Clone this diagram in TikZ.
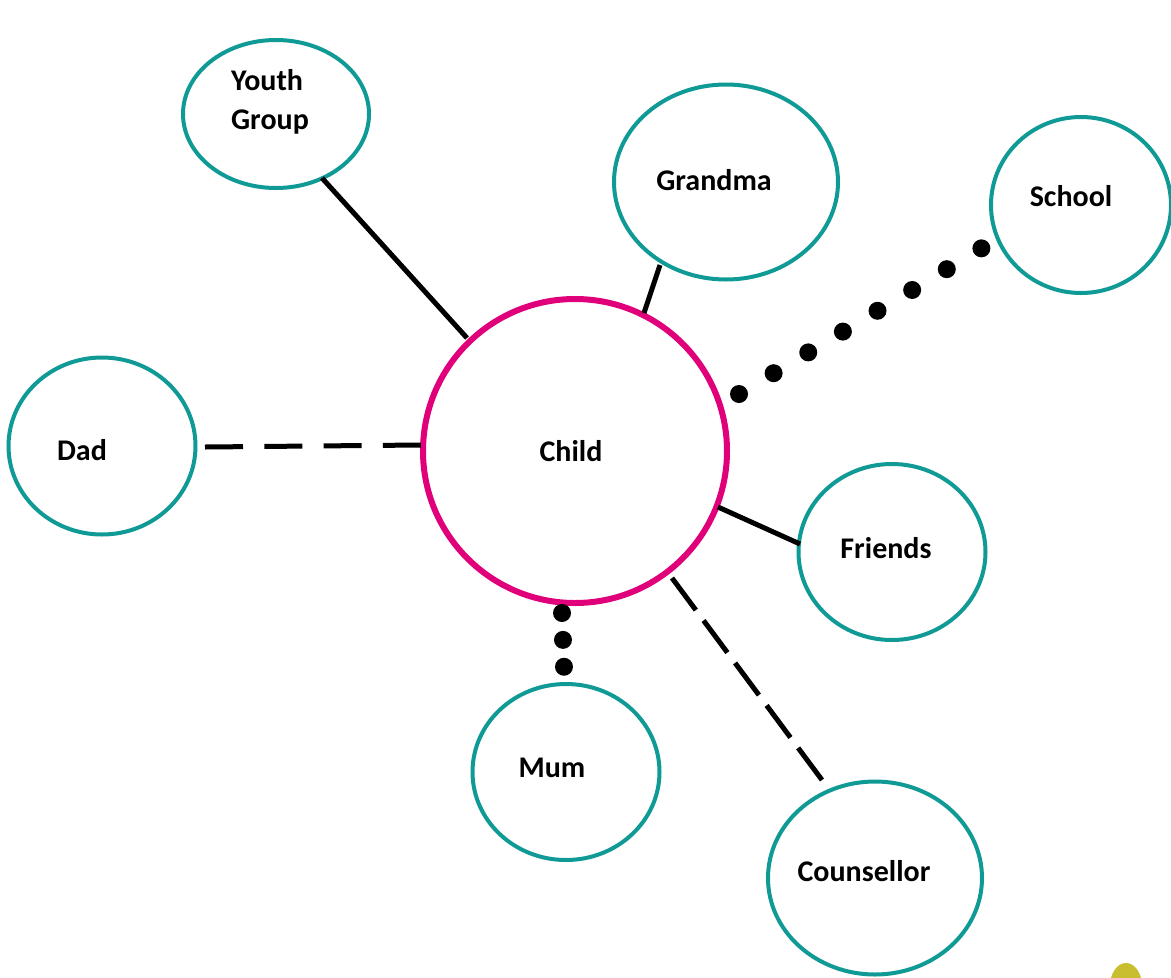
\documentclass[tikz,border=0pt]{standalone}
\usepackage{fontspec}
\setmainfont{Carlito}
\usetikzlibrary{shapes.geometric}
\definecolor{teal1}{RGB}{16,154,150}
\definecolor{pink1}{RGB}{224,0,122}
\definecolor{olive1}{RGB}{200,190,48}
\tikzset{
  bubble/.style={ellipse, draw=teal1, line width=4pt, inner sep=0pt, fill=white},
  centre/.style={circle, draw=pink1, line width=6pt, inner sep=0pt, fill=white},
  lbl/.style={font=\fontsize{30}{39}\selectfont\bfseries, align=left},
  solidlink/.style={line width=5pt, black},
  dashlink/.style={line width=5pt, black},
  dotlink/.style={line width=18pt, black, line cap=round}
}
\begin{document}
\begin{tikzpicture}[x=1pt,y=-1pt]
\useasboundingbox (0,0) rectangle (1171,978);
\fill[white] (0,0) rectangle (1171,978);
\coordinate (yg1) at (322,178);
\coordinate (yg2) at (467,338);
\coordinate (gm1) at (660,265);
\coordinate (gm2) at (644,313);
\coordinate (sc1) at (739,394);
\coordinate (sc2) at (982,248);
\coordinate (dd1) at (205,447);
\coordinate (dd2) at (421,445);
\coordinate (fr1) at (718,507);
\coordinate (fr2) at (800,544);
\coordinate (mm1) at (562,613);
\coordinate (mm2) at (564,667);
\coordinate (co1) at (672,578);
\coordinate (co2) at (822,780);

\node[bubble, minimum width=186pt, minimum height=148pt,
  label={[lbl, xshift=-6pt, yshift=12pt]center:{Youth\\Group}}] (youth) at (276,114) {};
\node[bubble, minimum width=224pt, minimum height=195pt,
  label={[lbl, xshift=-12pt, yshift=2pt]center:Grandma}] (grandma) at (726,182) {};
\node[bubble, minimum width=180pt, minimum height=176pt,
  label={[lbl, xshift=-10pt, yshift=9pt]center:School}] (school) at (1081,205) {};
\node[bubble, minimum width=187pt, minimum height=177pt,
  label={[lbl, xshift=-20pt, yshift=-4pt]center:Dad}] (dad) at (102,446) {};
\node[centre, minimum size=304pt,
  label={[lbl, xshift=-4pt]center:Child}] (child) at (575,451) {};
\node[bubble, minimum width=187pt, minimum height=176pt,
  label={[lbl, xshift=-6pt, yshift=4pt]center:Friends}] (friends) at (892,552) {};
\node[bubble, minimum width=187pt, minimum height=176pt,
  label={[lbl, xshift=-14pt, yshift=4pt]center:Mum}] (mum) at (566,772) {};
\node[bubble, minimum width=214pt, minimum height=193pt,
  label={[lbl, xshift=-11pt, yshift=7pt]center:Counsellor}] (counsellor) at (875,878) {};

\draw[solidlink] (yg1) -- (yg2);
\draw[solidlink] (gm1) -- (gm2);
\draw[solidlink] (fr1) -- (fr2);
\draw[dashlink, dash pattern=on 38pt off 21.3pt] (dd1) -- (dd2);
\draw[dashlink, dash pattern=on 40pt off 12.9pt] (co1) -- (co2);
\draw[dotlink, dash pattern=on 0pt off 40.4pt] (sc1) -- (sc2);
\draw[dotlink, dash pattern=on 0pt off 26.9pt] (mm1) -- (mm2);

\fill[olive1] (1126,986) ellipse [x radius=16, y radius=23];
\end{tikzpicture}
\end{document}
